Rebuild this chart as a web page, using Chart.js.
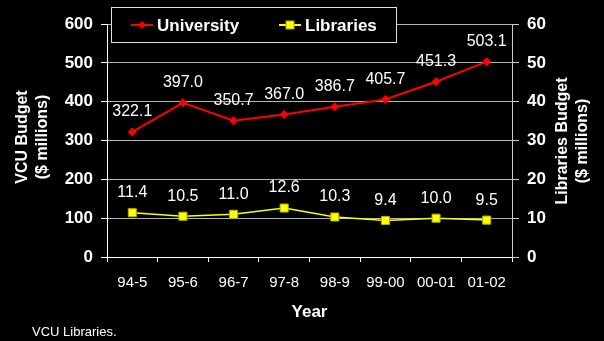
<!DOCTYPE html>
<html>
<head>
<meta charset="utf-8">
<script src="https://cdn.jsdelivr.net/npm/chart.js@4/dist/chart.umd.min.js"></script>
<style>
html,body{margin:0;padding:0;background:#000}
#wrap{width:604px;height:341px}
</style>
</head>
<body>
<div id="wrap"><canvas id="budgetChart" width="604" height="341"></canvas></div>
<script>
const years = ["94-5","95-6","96-7","97-8","98-9","99-00","00-01","01-02"]
const university = [322.1,397.0,350.7,367.0,386.7,405.7,451.3,503.1]
const libraries = [11.4,10.5,11.0,12.6,10.3,9.4,10.0,9.5]

const FONT = "'Liberation Sans', Arial, sans-serif"

// value labels above each point
const valueLabels = {
id:"valueLabels",
afterDatasetsDraw(chart){
const ctx = chart.ctx
ctx.save()
ctx.font = "16px " + FONT
ctx.fillStyle = "#fff"
ctx.textAlign = "center"
ctx.textBaseline = "middle"
chart.data.datasets.forEach((ds,i)=>{
chart.getDatasetMeta(i).data.forEach((pt,j)=>{
ctx.fillText(ds.data[j].toFixed(1), pt.x, pt.y - 20)
})
})
ctx.restore()
}
}

// legend box, axis titles, footer
const extras = {
id:"extras",
afterDraw(chart){
const ctx = chart.ctx
ctx.save()

// legend
ctx.fillStyle = "#000"
ctx.fillRect(111,7,285,35)
ctx.strokeStyle = "#e0e0e0"
ctx.lineWidth = 1
ctx.strokeRect(111.5,7.5,285,35)
const items = [{x:131,ds:chart.data.datasets[0]},{x:279,ds:chart.data.datasets[1]}]
items.forEach(it=>{
const y = 25
ctx.strokeStyle = it.ds.borderColor
ctx.lineWidth = 2
ctx.beginPath()
ctx.moveTo(it.x,y)
ctx.lineTo(it.x+22,y)
ctx.stroke()
ctx.fillStyle = it.ds.pointBackgroundColor
ctx.strokeStyle = it.ds.pointBorderColor
ctx.lineWidth = 1
const cx = it.x+11
if(it.ds.pointStyle === "rectRot"){
ctx.beginPath()
ctx.moveTo(cx,y-4); ctx.lineTo(cx+4,y); ctx.lineTo(cx,y+4); ctx.lineTo(cx-4,y); ctx.closePath()
ctx.fill()
}else{
ctx.fillRect(cx-4,y-4,8,8)
ctx.strokeRect(cx-4,y-4,8,8)
}
ctx.fillStyle = "#fff"
ctx.font = "bold 17px " + FONT
ctx.textAlign = "left"
ctx.textBaseline = "middle"
ctx.fillText(it.ds.label, it.x+26, y+1)
})

// y titles
ctx.fillStyle = "#fff"
ctx.font = "bold 16px " + FONT
ctx.textAlign = "center"
ctx.textBaseline = "middle"
ctx.save()
ctx.translate(23,137)
ctx.rotate(-Math.PI/2)
ctx.fillText("VCU Budget",0,0)
ctx.fillText("($ millions)",0,20)
ctx.restore()
ctx.save()
ctx.translate(563,141)
ctx.rotate(-Math.PI/2)
ctx.fillText("Libraries Budget",0,0)
ctx.fillText("($ millions)",0,20)
ctx.restore()

// footer
ctx.font = "13px " + FONT
ctx.textAlign = "left"
ctx.fillText("VCU Libraries.",32,332)

ctx.restore()
}
}

new Chart(document.getElementById("budgetChart"),{
type:"line",
data:{
labels:years,
datasets:[{
label:"University",
data:university,
yAxisID:"y",
borderColor:"#ff0000",
borderWidth:2,
pointStyle:"rectRot",
pointRadius:4.5,
pointBackgroundColor:"#ff0000",
pointBorderColor:"#ff0000",
pointBorderWidth:0,
tension:0
},{
label:"Libraries",
data:libraries,
yAxisID:"y1",
borderColor:"#ffff00",
borderWidth:1.5,
pointStyle:"rect",
pointRadius:5.7,
pointBackgroundColor:"#ffff00",
pointBorderColor:"#b0b000",
pointBorderWidth:1,
tension:0
}]
},
options:{
responsive:false,
animation:false,
events:[],
layout:{padding:{top:24,left:0,right:0,bottom:0}},
plugins:{legend:{display:false},tooltip:{enabled:false}},
scales:{
x:{
offset:true,
afterFit(s){ s.height = 84 },
grid:{drawOnChartArea:false,tickLength:5,tickColor:"#fff",offset:true},
border:{color:"#fff",width:1},
ticks:{color:"#fff",font:{family:FONT,size:15},padding:12,maxRotation:0,autoSkip:false},
title:{display:true,text:"Year",color:"#fff",font:{family:FONT,size:17,weight:"bold"},padding:{top:0,bottom:18}}
},
y:{
position:"left",
min:0,max:600,
afterFit(s){ s.width = 107 },
ticks:{stepSize:100,color:"#fff",font:{family:FONT,size:17,weight:"bold"},padding:8},
grid:{color:"#b4b4b4",tickColor:"#fff",tickLength:6},
border:{color:"#fff",width:1}
},
y1:{
position:"right",
min:0,max:60,
afterFit(s){ s.width = 92 },
ticks:{stepSize:10,color:"#fff",font:{family:FONT,size:17,weight:"bold"},padding:8},
grid:{drawOnChartArea:false,tickColor:"#ccc",tickLength:7},
border:{color:"#ccc",width:1}
}
}
},
plugins:[valueLabels,extras]
})
</script>
</body>
</html>
